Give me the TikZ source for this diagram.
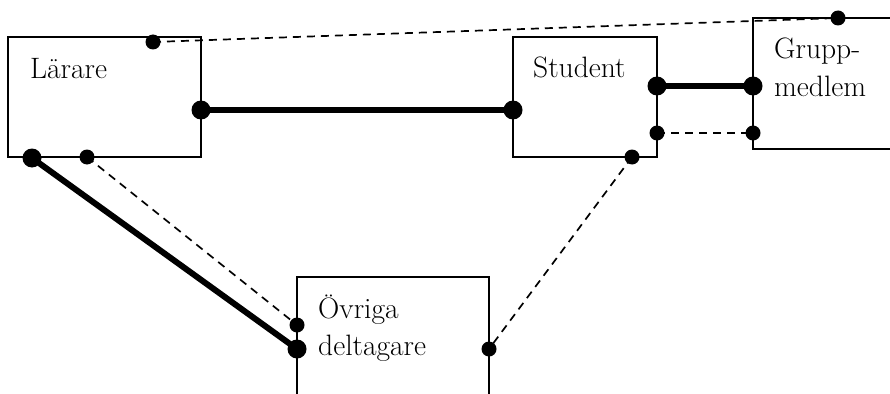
\documentclass[tikz,border=0pt]{standalone}
\begin{document}
\begin{tikzpicture}[x=1pt,y=-1pt,
  box/.style={draw, line width=1.8pt, rectangle, inner sep=0pt, outer sep=0pt, anchor=north west},
  lbl/.style={anchor=base west, inner sep=0pt, font=\fontsize{29.5}{34}\selectfont},
  bigdot/.style={circle, fill=black, inner sep=0pt, minimum size=19pt},
  smalldot/.style={circle, fill=black, inner sep=0pt, minimum size=15pt},
  strong/.style={line width=6pt},
  weak/.style={line width=1.7pt, dash pattern=on 8pt off 6pt}]
\useasboundingbox (0,0) rectangle (890,393);
\clip (0,0) rectangle (890,393);
% boxes
\node[box, minimum width=193pt, minimum height=120pt] (L) at (8,37) {};
\node[box, minimum width=144pt, minimum height=120pt] (S) at (513,37) {};
\node[box, minimum width=220pt, minimum height=131pt] (G) at (753,18) {};
\node[box, minimum width=192pt, minimum height=180pt] (O) at (297,277) {};
% labels
\node[lbl] (tL) at (30,79) {Lärare};
\node[lbl] (tS) at (533,78) {Student};
\node[lbl] (tG1) at (774,59) {Grupp-};
\node[lbl] (tG2) at (774,97) {medlem};
\node[lbl] (tO1) at (318,318) {Övriga};
\node[lbl] (tO2) at (318,355) {deltagare};
% dots
\node[smalldot] (Ltop) at (153,42) {};
\node[bigdot] (Lright) at (201,110) {};
\node[bigdot] (Lbl) at (32,158) {};
\node[smalldot] (Lbot) at (87,157) {};
\node[bigdot] (Sleft) at (513,110) {};
\node[bigdot] (Sright) at (657,86) {};
\node[smalldot] (Srlow) at (657,133) {};
\node[smalldot] (Sbot) at (632,157) {};
\node[smalldot] (Gtop) at (838,18) {};
\node[bigdot] (Gleft) at (753,86) {};
\node[smalldot] (Glow) at (753,133) {};
\node[smalldot] (Osmall) at (297,325) {};
\node[bigdot] (Obig) at (297,349) {};
\node[smalldot] (Oright) at (489,349) {};
% connectors
\draw[weak] (Ltop.center) -- (Gtop.center);
\draw[strong] (Lright.center) -- (Sleft.center);
\draw[strong] (Sright.center) -- (Gleft.center);
\draw[weak] (Srlow.center) -- (Glow.center);
\draw[weak] (Sbot.center) -- (Oright.center);
\draw[strong] (Lbl.center) -- (Obig.center);
\draw[weak] (Lbot.center) -- (Osmall.center);
\end{tikzpicture}
\end{document}
